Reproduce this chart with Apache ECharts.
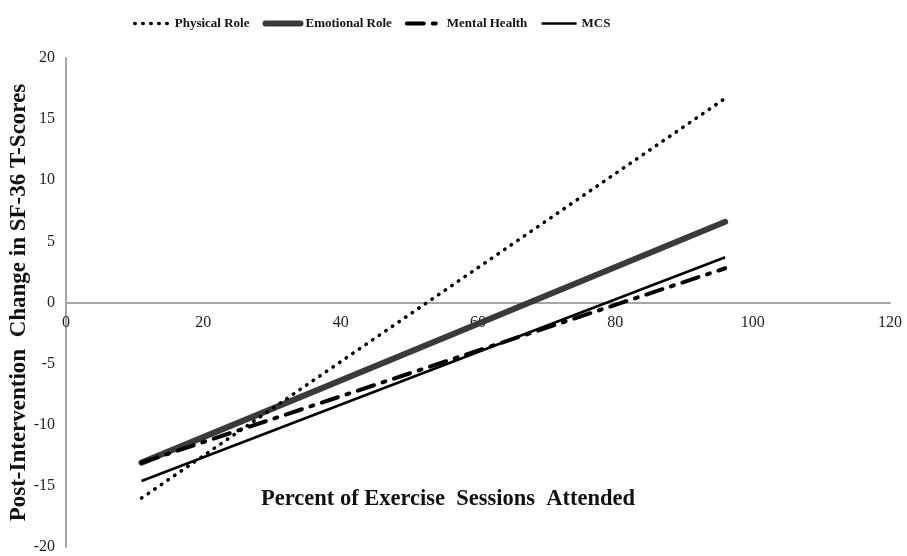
<!DOCTYPE html>
<html>
<head>
<meta charset="utf-8">
<script src="https://cdn.jsdelivr.net/npm/echarts@6/dist/echarts.min.js"></script>
<style>html,body{margin:0;padding:0;background:#fff}#c{width:907px;height:556px}</style>
</head>
<body>
<div id="c"></div>
<script>
var xValues = [11, 96];
var physicalRole = [-16.0, 16.7];
var emotionalRole = [-13.1, 6.6];
var mentalHealth = [-13.1, 2.8];
var mcs = [-14.6, 3.7];
var seriesNames = ['Physical Role', 'Emotional Role', 'Mental Health', 'MCS'];
var xTicks = [0, 20, 40, 60, 80, 100, 120];
var yTicks = [-20, -15, -10, -5, 0, 5, 10, 15, 20];

function pairs(ys) { return xValues.map(function (x, i) { return [x, ys[i]]; }); }

var serif = '"Liberation Serif", "DejaVu Serif", serif';
var styles = [
  {color: '#000', width: 3.5, type: [0.5, 7.5], cap: 'round'},
  {color: '#3a3a3a', width: 6, type: 'solid', cap: 'round'},
  {color: '#000', width: 4, type: [17, 9, 3, 9], cap: 'round'},
  {color: '#000', width: 2.5, type: 'solid', cap: 'butt'}
];
var gridTop = 58, gridBottom = 9, H = 556;
var chart = echarts.init(document.getElementById('c'), null, {renderer: 'canvas'});
chart.setOption({
  animation: false,
  backgroundColor: '#fff',
  legend: {
    left: 133, top: 17, padding: 0,
    itemWidth: 35, itemHeight: 10, itemGap: 13,
    itemStyle: {opacity: 0},
    textStyle: {fontFamily: serif, fontWeight: 'bold', fontSize: 13, color: '#111'},
    data: seriesNames.map(function (n, i) { return {name: n, lineStyle: styles[i]}; })
  },
  grid: {left: 66, right: 17, top: gridTop, bottom: gridBottom, containLabel: false, outerBoundsMode: 'none'},
  xAxis: {
    type: 'value', min: xTicks[0], max: xTicks[xTicks.length - 1], interval: 20,
    axisLine: {onZero: false, lineStyle: {color: '#a6a6a6', width: 2}},
    offset: -(H - gridTop - gridBottom) / 2,
    axisTick: {show: false},
    splitLine: {show: false},
    axisLabel: {fontFamily: serif, fontSize: 16, color: '#222', margin: 12}
  },
  yAxis: {
    type: 'value', min: yTicks[0], max: yTicks[yTicks.length - 1], interval: 5,
    name: 'Post-Intervention  Change in SF-36 T-Scores',
    nameLocation: 'middle', nameGap: 35, nameRotate: 90, nameMoveOverlap: false,
    nameTextStyle: {fontFamily: serif, fontWeight: 'bold', fontSize: 23, color: '#111'},
    axisLine: {show: true, onZero: false, lineStyle: {color: '#a6a6a6', width: 2}},
    axisTick: {show: false},
    splitLine: {show: false},
    axisLabel: {fontFamily: serif, fontSize: 16, color: '#222', margin: 11}
  },
  graphic: [{
    type: 'text', left: 261, top: 488,
    style: {text: 'Percent of Exercise  Sessions  Attended', font: 'bold 22.5px ' + serif, fill: '#111'}
  }],
  series: seriesNames.map(function (n, i) {
    var d = [physicalRole, emotionalRole, mentalHealth, mcs][i];
    return {name: n, type: 'line', symbol: 'none', data: pairs(d),
      lineStyle: styles[i], itemStyle: {color: styles[i].color}, z: [3, 2, 4, 3][i]};
  })
});
</script>
</body>
</html>
